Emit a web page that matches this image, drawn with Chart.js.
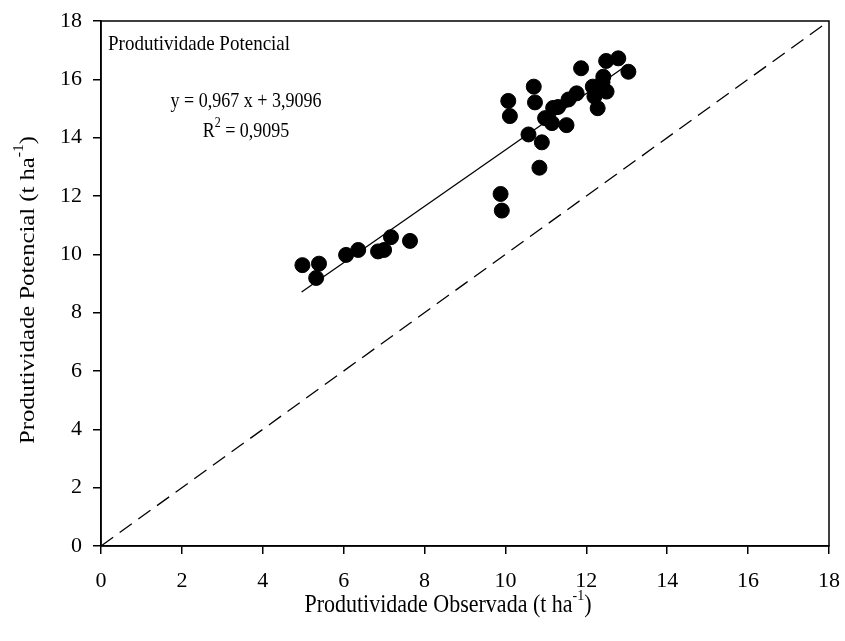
<!DOCTYPE html>
<html>
<head>
<meta charset="utf-8">
<script src="https://cdn.jsdelivr.net/npm/chart.js@4"></script>
<style>
  html, body { margin: 0; padding: 0; background: #fff; }
  #wrap { width: 845px; height: 641px; }
</style>
</head>
<body>
<div id="wrap"><canvas id="chart"></canvas></div>
<script>
// observed vs potential productivity (t/ha)
const obsX = [4.98, 5.39, 5.32, 6.06, 6.36, 6.85, 7.0, 7.17, 7.64,
  9.88, 9.91, 10.07, 10.11, 10.70, 10.73, 10.57, 10.90, 10.84,
  10.98, 11.18, 11.30, 11.15, 11.51, 11.56, 11.76, 11.87,
  12.16, 12.20, 12.28, 12.42, 12.40, 12.50, 12.49, 12.79, 13.04];
const potY = [9.63, 9.68, 9.19, 9.98, 10.15, 10.1, 10.15, 10.59, 10.46,
  12.07, 11.5, 15.26, 14.74, 15.75, 15.21, 14.11, 13.84, 12.97,
  14.67, 15.02, 15.05, 14.5, 14.43, 15.31, 15.52, 16.38,
  15.75, 15.41, 15.01, 16.09, 15.9, 15.58, 16.63, 16.72, 16.26];
const slope = 0.967, intercept = 3.9096;
const fitRange = [4.96, 12.95];
const identity = [0, 18];
const ticks = [0, 2, 4, 6, 8, 10, 12, 14, 16, 18];

const serif = "'Liberation Serif', 'Times New Roman', serif";

// text with a superscript piece, centred on x; sx/sy stretch the glyphs
function textSup(ctx, base, sup, tail, x, y, size, sx, sy) {
  const supSize = Math.round(size * 0.65);
  ctx.save();
  ctx.translate(x, y);
  ctx.scale(sx || 1, sy || 1);
  ctx.font = size + "px " + serif;
  const wb = ctx.measureText(base).width;
  const wt = ctx.measureText(tail).width;
  ctx.font = supSize + "px " + serif;
  const ws = ctx.measureText(sup).width;
  const left = -(wb + ws + wt) / 2;
  ctx.textAlign = "left";
  ctx.textBaseline = "middle";
  ctx.font = size + "px " + serif;
  ctx.fillText(base, left, 0);
  ctx.fillText(tail, left + wb + ws, 0);
  ctx.font = supSize + "px " + serif;
  ctx.fillText(sup, left + wb, -size * 0.4);
  ctx.restore();
}

const decor = {
  id: "decor",
  afterDraw(chart) {
    const { ctx, chartArea: a } = chart;
    ctx.save();
    ctx.strokeStyle = "#000";
    ctx.lineWidth = 1.5;
    ctx.strokeRect(a.left, a.top, a.right - a.left, a.bottom - a.top);
    ctx.fillStyle = "#000";
    ctx.textBaseline = "middle";

    ctx.save();
    ctx.translate(a.left + 7, 44);
    ctx.scale(1, 1.12);
    ctx.font = "19px " + serif;
    ctx.textAlign = "left";
    ctx.fillText("Produtividade Potencial", 0, 0);
    ctx.restore();

    ctx.save();
    ctx.translate(246, 102);
    ctx.scale(1, 1.15);
    ctx.font = "18px " + serif;
    ctx.textAlign = "center";
    ctx.fillText("y = 0,967 x + 3,9096", 0, 0);
    ctx.restore();

    textSup(ctx, "R", "2", " = 0,9095", 246, 132, 18, 1, 1.15);
    textSup(ctx, "Produtividade Observada (t ha", "-1", ")", 448, 606, 22, 1, 1.1);
    ctx.translate(28, 290);
    ctx.rotate(-Math.PI / 2);
    textSup(ctx, "Produtividade Potencial (t ha", "-1", ")", 0, 0, 22, 1.12, 1);
    ctx.restore();
  }
};

new Chart(document.getElementById("chart"), {
  type: "scatter",
  data: {
    datasets: [
      {
        data: obsX.map((x, i) => ({ x, y: potY[i] })),
        backgroundColor: "#000",
        borderColor: "#000",
        pointRadius: 7.5,
        pointHoverRadius: 7.5
      },
      {
        type: "line",
        data: fitRange.map((x) => ({ x, y: slope * x + intercept })),
        borderColor: "#000",
        borderWidth: 1.3,
        pointRadius: 0
      },
      {
        type: "line",
        data: identity.map((v) => ({ x: v, y: v })),
        borderColor: "#000",
        borderWidth: 1.3,
        borderDash: [15, 8],
        pointRadius: 0
      }
    ]
  },
  options: {
    responsive: true,
    maintainAspectRatio: false,
    animation: false,
    layout: { padding: { left: 0, right: 16, top: 21, bottom: 0 } },
    plugins: { legend: { display: false }, tooltip: { enabled: false } },
    scales: {
      x: {
        type: "linear",
        min: 0,
        max: 18,
        afterBuildTicks: (s) => { s.ticks = ticks.map((v) => ({ value: v })); },
        afterFit: (s) => { s.height = 95; s.paddingLeft = 0; s.paddingRight = 0; },
        border: { display: true, color: "#000", width: 1.5 },
        grid: { drawOnChartArea: false, drawTicks: true, tickLength: 8, color: "#000", lineWidth: 1.5 },
        ticks: { color: "#000", font: { family: serif, size: 22 }, padding: 14, maxRotation: 0 }
      },
      y: {
        type: "linear",
        min: 0,
        max: 18,
        afterBuildTicks: (s) => { s.ticks = ticks.map((v) => ({ value: v })); },
        afterFit: (s) => { s.width = 101; s.paddingTop = 0; s.paddingBottom = 0; },
        border: { display: true, color: "#000", width: 1.5 },
        grid: { drawOnChartArea: false, drawTicks: true, tickLength: 8, color: "#000", lineWidth: 1.5 },
        ticks: { color: "#000", font: { family: serif, size: 22 }, padding: 11 }
      }
    }
  },
  plugins: [decor]
});
</script>
</body>
</html>
